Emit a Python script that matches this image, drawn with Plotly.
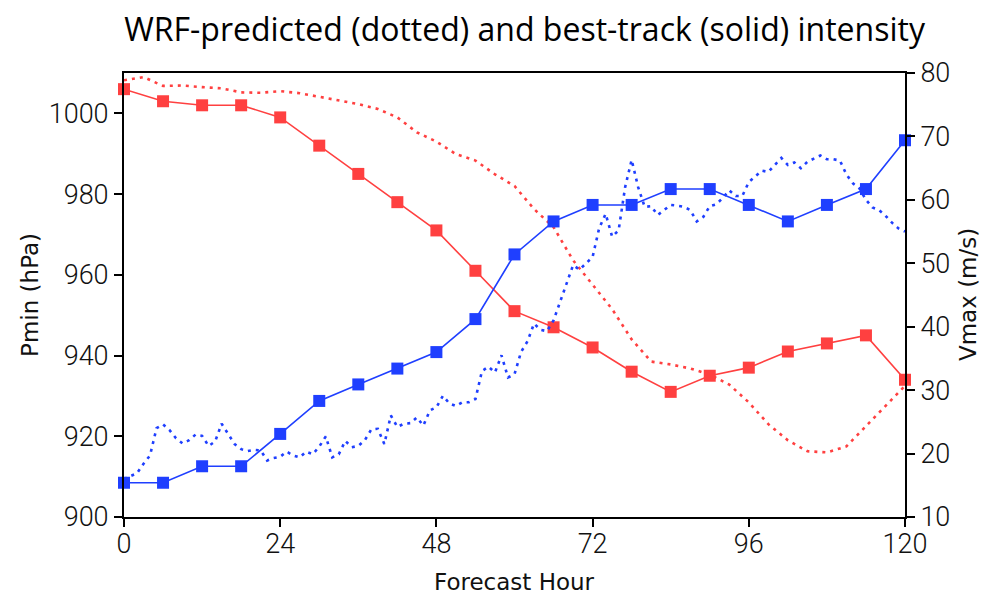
import plotly.graph_objects as go

# Best-track (solid, 6-hourly)
bt_hours = list(range(0, 121, 6))
bt_pmin = [1006, 1003, 1002, 1002, 999, 992, 985, 978, 971, 961, 951,
           947, 942, 936, 931, 935, 937, 941, 943, 945, 934]
bt_vmax = [15.4, 15.4, 18.0, 18.0, 23.1, 28.3, 30.9, 33.4, 36.0, 41.2, 51.4,
           56.6, 59.2, 59.2, 61.7, 61.7, 59.2, 56.6, 59.2, 61.7, 69.4]

# WRF-predicted (dotted)
wrf_p_hours = list(range(0, 121, 3))
wrf_pmin = [1008.2, 1009.0, 1006.8, 1006.9, 1006.5, 1006.2, 1005.2, 1005.1, 1005.5,
            1005.0, 1004.1, 1003.2, 1002.3, 1001.1, 999.0, 995.3, 993.0, 989.9,
            988.3, 984.9, 982.0, 976.3, 971.8, 963.6, 957.5, 951.5, 944.0, 938.5,
            937.8, 936.8, 935.3, 932.8, 928.4, 923.0, 919.0, 916.3, 916.0, 917.5,
            922.5, 927.5, 932.5]

wrf_v_hours = list(range(0, 121))
wrf_vmax = [16.0, 16.4, 16.9, 18.4, 19.7, 24.0, 24.6, 23.7, 22.4, 21.6,
            22.1, 23.0, 22.8, 21.2, 21.9, 24.7, 23.1, 21.5, 20.7, 20.4,
            20.6, 20.5, 18.9, 19.3, 19.5, 20.3, 19.7, 19.4, 20.3, 19.9,
            21.1, 22.7, 19.4, 19.9, 22.0, 21.0, 21.2, 22.1, 23.8, 23.9,
            21.5, 26.0, 24.2, 24.7, 24.8, 25.7, 24.4, 26.8, 27.3, 29.1,
            27.9, 27.5, 28.1, 28.1, 28.6, 33.0, 33.7, 32.8, 35.5, 32.0,
            32.5, 36.0, 37.7, 40.5, 39.5, 39.3, 41.0, 43.9, 46.5, 49.7,
            49.0, 50.0, 51.0, 55.5, 57.8, 54.2, 55.2, 62.0, 66.3, 62.0,
            58.9, 59.0, 57.6, 58.4, 59.2, 59.1, 58.9, 58.4, 56.6, 57.3,
            59.0, 59.3, 60.3, 61.5, 60.6, 60.6, 62.8, 63.7, 64.6, 64.4,
            65.5, 66.6, 65.5, 65.9, 65.0, 66.0, 66.5, 67.0, 66.4, 66.4,
            66.2, 64.0, 62.6, 61.8, 60.0, 58.8, 58.4, 57.5, 56.4, 55.5,
            55.0]

x_ticks = [0, 24, 48, 72, 96, 120]

RED = "#ff4040"
BLUE = "#1f3fff"
DOT = "3px,5px"

fig = go.Figure()
fig.add_trace(go.Scatter(x=wrf_p_hours, y=wrf_pmin, mode="lines",
                         line=dict(color=RED, width=2.6, dash=DOT),
                         yaxis="y", showlegend=False, cliponaxis=False))
fig.add_trace(go.Scatter(x=wrf_v_hours, y=wrf_vmax, mode="lines",
                         line=dict(color=BLUE, width=2.6, dash=DOT),
                         yaxis="y2", showlegend=False, cliponaxis=False))
fig.add_trace(go.Scatter(x=bt_hours, y=bt_pmin, mode="lines+markers",
                         line=dict(color=RED, width=1.6),
                         marker=dict(symbol="square", size=12, color=RED),
                         yaxis="y", showlegend=False, cliponaxis=False))
fig.add_trace(go.Scatter(x=bt_hours, y=bt_vmax, mode="lines+markers",
                         line=dict(color=BLUE, width=1.6),
                         marker=dict(symbol="square", size=12, color=BLUE),
                         yaxis="y2", showlegend=False, cliponaxis=False))

FONT = "Roboto, Open Sans, sans-serif"
tick_font = dict(family=FONT, size=27, color="#111", weight=300)
title_font = dict(family="DejaVu Sans, sans-serif", size=23, color="#111")

axis_common = dict(showgrid=False, zeroline=False, showline=True, linecolor="black",
                   linewidth=2, ticks="outside", ticklen=8, tickwidth=2,
                   tickcolor="black", tickfont=tick_font, automargin=False)

# page has an 8px body margin; figure is sized so it ends at the window edge
fig.update_layout(
    width=984, height=588,
    margin=dict(l=116, r=87, t=65, b=79),
    paper_bgcolor="white", plot_bgcolor="white",
    title=dict(text="WRF-predicted (dotted) and best-track (solid) intensity",
               x=0.525, xanchor="center", y=0.963, yanchor="middle",
               font=dict(family="Open Sans, Lato, sans-serif", size=32, color="black")),
    xaxis=dict(range=[0, 120], tickvals=x_ticks, ticktext=[str(v) for v in x_ticks],
               mirror=True, ticklabelstandoff=-6, **axis_common),
    yaxis=dict(range=[900, 1010], tick0=900, dtick=20, **axis_common),
    yaxis2=dict(range=[10, 80], tick0=10, dtick=10, overlaying="y", side="right",
                **axis_common),
    annotations=[
        dict(text="Forecast Hour", xref="paper", yref="paper", x=0.5, y=-0.146,
             xanchor="center", yanchor="middle", showarrow=False, font=title_font),
        dict(text="Pmin (hPa)", xref="paper", yref="paper", x=-0.1204, y=0.5,
             xanchor="center", yanchor="middle", textangle=-90, showarrow=False,
             font=title_font),
        dict(text="Vmax (m/s)", xref="paper", yref="paper", x=1.0807, y=0.5,
             xanchor="center", yanchor="middle", textangle=-90, showarrow=False,
             font=title_font),
    ],
)

fig.write_html("out.html")
